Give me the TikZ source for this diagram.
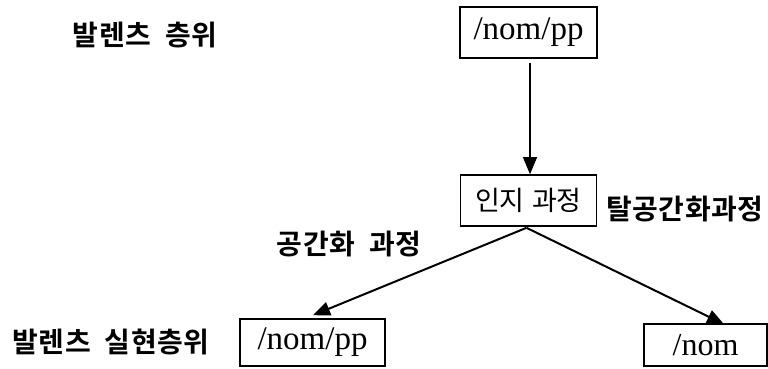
\documentclass[tikz,border=0pt]{standalone}
\usepackage{fontspec}
\setmainfont{Liberation Serif}
\newfontfamily\krfont[LetterSpace=-4]{Noto Sans CJK KR}
\newfontfamily\krbold[LetterSpace=2]{Noto Sans CJK KR Bold}
\usetikzlibrary{arrows.meta,calc}
\newcommand{\gap}{\hspace{14pt}}
\begin{document}
\begin{tikzpicture}[x=1pt,y=-1pt,
  box/.style={draw, line width=1.6pt, inner sep=0pt, anchor=center},
  lab/.style={inner sep=0pt, anchor=center, font=\krbold\fontsize{28}{30}\selectfont},
  arr/.style={-{Triangle[length=17pt,width=14pt]}}]
\useasboundingbox[fill=white] (0,0) rectangle (768,368);
% boxes
\node[box, minimum width=137pt, minimum height=51pt, font=\fontsize{33}{36}\selectfont] (top) at (528.5,32.5) {/nom/pp};
\node[box, minimum width=136pt, minimum height=51pt, font=\krfont\fontsize{27}{29}\selectfont] (mid) at (528.5,200.5) {인지\hspace{9pt}과정};
\node[box, minimum width=145pt, minimum height=47pt, font=\fontsize{33}{36}\selectfont] (left) at (312.5,342.5) {/nom/pp};
\node[box, minimum width=123pt, minimum height=42pt, font=\fontsize{32}{34}\selectfont] (right) at (705.5,345) {/nom};
% labels
\node[lab] (l1) at (145,35) {발렌츠\gap 층위};
\node[lab] (l2) at (349,244) {공간화\gap 과정};
\node[lab] (l3) at (685,209) {탈공간화과정};
\node[lab] (l4) at (111,342) {발렌츠\gap 실현층위};
% connectors
\draw[arr, line width=1.1pt, shorten <=4pt] ($(top.south)+(1.5,0)$) -- ($(mid.north)+(1.5,0)$);
\coordinate (split) at ($(mid.south)+(-2,1)$);
\draw[arr, line width=2pt] (split) -- ($(left.north)+(0.5,-3)$);
\draw[arr, line width=2pt] (split) -- ($(right.north)+(18.5,1)$);
\end{tikzpicture}
\end{document}
